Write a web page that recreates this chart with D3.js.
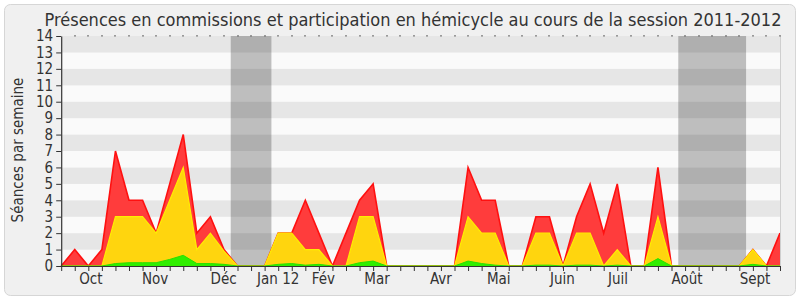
<!DOCTYPE html>
<html>
<head>
<meta charset="utf-8">
<script src="https://cdn.jsdelivr.net/npm/d3@7"></script>
<style>
html,body{margin:0;padding:0;background:#ffffff;}
svg{display:block;}
text{font-family:"DejaVu Sans Condensed","DejaVu Sans",sans-serif;fill:#333;}
</style>
</head>
<body>
<svg id="chart" width="800" height="300"></svg>
<script>
// ---- data ----
const weeks = d3.range(54); // weekly points of the session
const totalSeances = [0,1,0,1,7,4,4,2,5,8,2,3,1,0, 0,0,2,2,4,2,0,2,4,5,0,0,0,0,0,0, 6,4,4,0,0,3,3,0,3,5,2,5,0,0,6,0,0,0,0,0,0,1,0,2];
const commissions   = [0,0,0,0,3,3,3,2,4,6,1,2,0.9,0, 0,0,2,2,1,1,0,0,3,3,0,0,0,0,0,0, 3,2,2,0,0,2,2,0,2,2,0,1,0,0,3,0,0,0,0,0,0,1,0,0];
const hemicycle     = [0,0,0,0,0.15,0.2,0.2,0.2,0.4,0.65,0.15,0.15,0.1,0, 0,0,0.1,0.15,0.05,0.1,0,0,0.2,0.3,0,0,0,0,0,0, 0.3,0.15,0.05,0,0,0.05,0.05,0,0.05,0.05,0,0.05,0,0,0.45,0,0,0,0,0,0,0.1,0,0];
const monthLabels = ["Oct","Nov","Déc","Jan 12","Fév","Mar","Avr","Mai","Juin","Juil","Août","Sept"];
const monthWeek   = [2.19,6.93,11.98,16.0,19.33,23.29,28.0,32.26,36.96,41.06,46.14,51.16];
const vacations = [[12.5,15.5],[45.5,50.5]];
const yTicks = d3.range(0,15);
const titleText = "Présences en commissions et participation en hémicycle au cours de la session 2011-2012";
const yLabel = "Séances par semaine";

// ---- layout ----
const svg = d3.select("#chart");
const x = d3.scaleLinear().domain([0,53]).range([61.2,780]);
const y = d3.scaleLinear().domain([0,14]).range([266,36]);

svg.append("rect").attr("x",4.5).attr("y",4.5).attr("width",791).attr("height",291)
  .attr("rx",6).attr("fill","#f0f0f0").attr("stroke","#d6d6d6");

// stripes
svg.append("g").selectAll("rect").data(d3.range(0,14)).join("rect")
  .attr("x",x(0)).attr("width",x(53)-x(0))
  .attr("y",d=>y(d+1)).attr("height",d=>y(d)-y(d+1))
  .attr("fill",d=>d%2===1?"#e6e6e6":"#fafafa");

// vacation bands
svg.append("g").selectAll("rect").data(vacations).join("rect")
  .attr("x",d=>x(d[0])).attr("width",d=>x(d[1])-x(d[0]))
  .attr("y",y(14)).attr("height",y(0)-y(14))
  .attr("fill","rgba(0,0,0,0.24)");

// areas
function drawArea(vals, fill, stroke, sw){
  const data = weeks.map((w,i)=>[w,vals[i]]);
  svg.append("path").datum(data)
    .attr("d",d3.area().x(d=>x(d[0])).y0(y(0)).y1(d=>y(d[1])))
    .attr("fill",fill);
  svg.append("path").datum(data)
    .attr("d",d3.line().x(d=>x(d[0])).y(d=>y(d[1])))
    .attr("fill","none").attr("stroke",stroke).attr("stroke-width",sw);
}
drawArea(totalSeances,"#ff3c3c","#ff1010",1.6);
drawArea(commissions,"#ffd50e","#ffee00",1.2);
drawArea(hemicycle,"#30ee00","#28e000",1);

// right border
svg.append("line").attr("x1",780.5).attr("x2",780.5).attr("y1",y(14)).attr("y2",y(0))
  .attr("stroke","#cfcfcf");

// top dotted ticks
svg.append("g").selectAll("rect").data(weeks.slice(1)).join("rect")
  .attr("x",d=>Math.round(x(d))-0.5).attr("y",35).attr("width",1).attr("height",1.6)
  .attr("fill","#444");

// x axis
const xAxis = svg.append("g").attr("transform",`translate(0,${y(0)})`)
  .call(d3.axisBottom(x).tickValues(weeks).tickFormat("").tickSizeInner(5).tickSizeOuter(0));
xAxis.select(".domain").attr("stroke","#333").attr("stroke-width",1.2);
xAxis.selectAll(".tick line").attr("stroke","#333");

svg.append("g").selectAll("text").data(monthLabels).join("text")
  .attr("x",(d,i)=>x(monthWeek[i])).attr("y",284)
  .attr("text-anchor","middle").attr("font-size",15).text(d=>d);

// y axis
const yAxis = svg.append("g").attr("transform",`translate(${x(0)},0)`)
  .call(d3.axisLeft(y).tickValues(yTicks).tickSizeInner(5).tickSizeOuter(0).tickPadding(3));
yAxis.select(".domain").attr("stroke","#333").attr("stroke-width",1.2);
yAxis.selectAll(".tick line").attr("stroke","#333");
yAxis.selectAll(".tick text").attr("font-size",15).attr("fill","#333")
  .attr("font-family","DejaVu Sans Condensed, DejaVu Sans, sans-serif");

// y label
svg.append("text").attr("transform","translate(23,150) rotate(-90)")
  .attr("text-anchor","middle").attr("font-size",15).text(yLabel);

// title
svg.append("text").attr("x",413).attr("y",26).attr("text-anchor","middle")
  .attr("font-size",18).text(titleText);
</script>
</body>
</html>
